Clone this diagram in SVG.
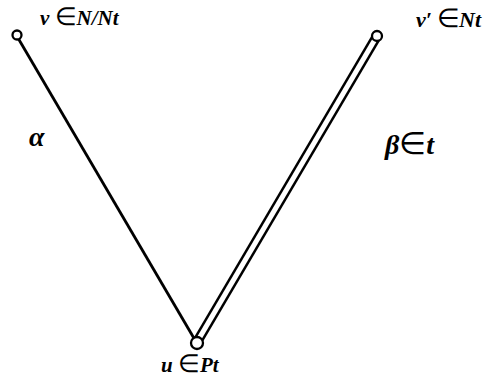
<svg xmlns="http://www.w3.org/2000/svg" width="504" height="378" viewBox="0 0 504 378">
<style>
.t{font-family:"Liberation Serif","Times New Roman",serif;font-style:italic;font-weight:bold;fill:#000}
.e{font-style:normal;font-weight:normal}
.ln{stroke:#000;stroke-width:2.8;fill:none}
.nd{fill:#fff;stroke:#000;stroke-width:2.3}
</style>
<rect width="504" height="378" fill="#fff"/>
<g id="connectors">
<line class="ln" x1="18" y1="38" x2="195" y2="340"/>
<line x1="377" y1="36" x2="197" y2="342" stroke="#000" stroke-width="10"/>
<line x1="377" y1="36" x2="197" y2="342" stroke="#fff" stroke-width="5"/>
</g>
<g id="v">
<circle class="nd" cx="17" cy="35" r="4.5"/>
<text class="t" x="40" y="25" font-size="21">v <tspan class="e" font-size="25">∈</tspan>N/Nt</text>
</g>
<g id="v2">
<circle class="nd" cx="377" cy="36" r="5"/>
<text class="t" x="416" y="27" font-size="22">v′ <tspan class="e" font-size="26" x="437">∈</tspan><tspan x="459">Nt</tspan></text>
</g>
<g id="u">
<circle class="nd" cx="197" cy="343" r="6"/>
<text class="t" x="161" y="372" font-size="21">u <tspan class="e" font-size="25">∈</tspan>Pt</text>
</g>
<g id="labels">
<text class="t" x="29" y="146" font-size="28">α</text>
<text class="t" x="385" y="154" font-size="28">β<tspan class="e" font-size="31">∈</tspan>t</text>
</g>
</svg>
